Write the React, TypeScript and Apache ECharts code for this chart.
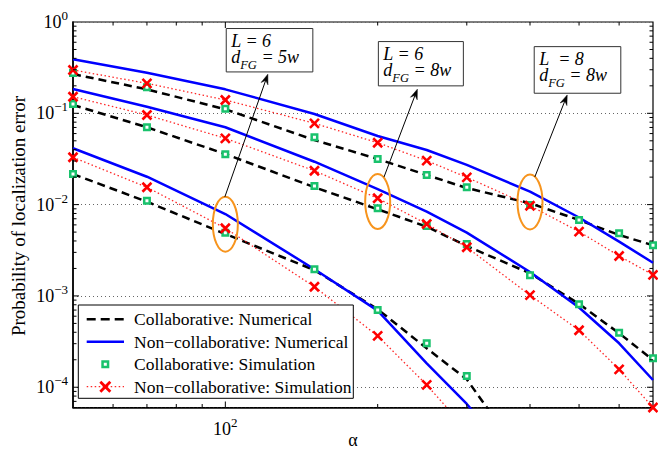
import React, { useEffect, useRef } from 'react';
import * as echarts from 'echarts';

// ---------------- data ----------------
const alpha = [50, 70, 100, 150, 200, 250, 300, 400, 500, 600, 700];

// upper family of curves
const collabNumA = [0.269, 0.183, 0.1106, 0.051, 0.0316, 0.0211, 0.0152, 0.01035, 0.00679, 0.00465, 0.00359];
const nonCollabNumA = [0.39, 0.278, 0.183, 0.0983, 0.0564, 0.0396, 0.0272, 0.0139, 0.00723, 0.00393, 0.00231];
const collabSimA = [0.276, 0.193, 0.112, 0.0546, 0.0316, 0.0211, 0.0155, 0.0099, 0.00679, 0.00485, 0.00359];
const nonCollabSimA = [0.298, 0.213, 0.14, 0.0777, 0.0476, 0.0303, 0.0199, 0.00973, 0.00506, 0.00274, 0.0017];

// middle family
const collabNumB = [0.1233, 0.0703, 0.0358, 0.0155, 0.00889, 0.00573, 0.00352, 0.00177, 0.000817, 0.00039, 0.000199];
const nonCollabNumB = [0.1845, 0.118, 0.0703, 0.0295, 0.0148, 0.0084, 0.00493, 0.00183, 0.000748, 0.000303, 0.00012];
const collabSimB = [0.1265, 0.0703, 0.0356, 0.016, 0.00912, 0.00583, 0.00371, 0.00168, 0.00081, 0.000396, 0.000208];
const nonCollabSimB = [0.152, 0.0958, 0.0532, 0.0235, 0.01173, 0.00614, 0.00341, 0.00102, 0.000421, 0.000157, 0.00006];

// lower family (values below the axis range are cut by the plot)
const collabNumC = [0.0216, 0.01076, 0.00477, 0.00192, 0.000714, 0.000267, 0.000122, 0.000013, null, null, null];
const nonCollabNumC = [0.0414, 0.0202, 0.00789, 0.00196, 0.00069, 0.000183, 0.0000656, 0.00001, null, null, null];
const collabSimC = [0.0216, 0.01104, 0.00493, 0.00196, 0.000701, 0.000303, 0.000133, null, null, null, null];
const nonCollabSimC = [0.033, 0.01549, 0.00551, 0.00126, 0.000365, 0.000106, 0.000034, null, null, null, null];

const seriesNames = [
  'Collaborative: Numerical',
  'Non\u2212collaborative: Numerical',
  'Collaborative: Simulation',
  'Non\u2212collaborative: Simulation',
];

// axis ticks
const xMajorTicks = [100];
const xMinorTicks = [60, 70, 80, 90, 200, 300, 400, 500, 600];
const yMajorTicks = [1e-4, 1e-3, 1e-2, 1e-1];
const yMinorTicks = [
  7e-5, 8e-5, 9e-5,
  2e-4, 3e-4, 4e-4, 5e-4, 6e-4, 7e-4, 8e-4, 9e-4,
  2e-3, 3e-3, 4e-3, 5e-3, 6e-3, 7e-3, 8e-3, 9e-3,
  2e-2, 3e-2, 4e-2, 5e-2, 6e-2, 7e-2, 8e-2, 9e-2,
  2e-1, 3e-1, 4e-1, 5e-1, 6e-1, 7e-1, 8e-1, 9e-1,
];

// annotations (anchored at data points)
const annotAlpha = [100, 200, 400];
const annotProb = [6.1e-3, 1.08e-2, 1.07e-2];
const annotL = ['L = 6', 'L = 6', 'L\u00a0 = 8'];
const annotD = ['5w', '8w', '8w'];

// ---------------- styling ----------------
const FONT = '"Liberation Serif", "Times New Roman", serif';
const GREEN = '#19c26c';
const RED = '#ff0000';
const BLUE = '#0000ff';
const ORANGE = '#f7941d';
const X_PATH = 'path://M0,0L10,10M10,0L0,10';

const annotLayout = [
  { start: [-0.5, -27.3], tip: [42.5, -150], box: [0.9, -195.7, 86.6, 43.4] },
  { start: [6.3, -24.5], tip: [39.7, -112.4], box: [0.7, -160, 85, 44.3] },
  { start: [4.8, -25], tip: [37.2, -107], box: [4.2, -155.3, 86.6, 46.6] },
];

function pairs(arr: (number | null)[]) {
  const out: number[][] = [];
  arr.forEach((v, i) => {
    if (v !== null) out.push([alpha[i], v]);
  });
  return out;
}

function powLabel(value: number) {
  const l = Math.log10(value);
  const e = Math.round(l);
  if (Math.abs(l - e) > 1e-6) return '';
  const s = e < 0 ? '\u2212' + -e : String(e);
  return `{b|10}{sup|${s}}`;
}

const labelRich = {
  b: { fontSize: 18, lineHeight: 26, fontFamily: FONT, color: '#000' },
  sup: { fontSize: 13, lineHeight: 26, verticalAlign: 'top', fontFamily: FONT, color: '#000' },
};

function groupSeries(cn: (number | null)[], nn: (number | null)[], cs: (number | null)[], ns: (number | null)[]) {
  return [
    {
      name: seriesNames[0], type: 'line', data: pairs(cn), symbol: 'none', z: 2,
      lineStyle: { color: '#000', width: 2.5, type: [8, 5] }, itemStyle: { color: '#000' },
    },
    {
      name: seriesNames[1], type: 'line', data: pairs(nn), symbol: 'none', z: 2,
      lineStyle: { color: BLUE, width: 2.5 }, itemStyle: { color: BLUE },
    },
    {
      name: seriesNames[2], type: 'line', data: pairs(cs), symbol: 'rect', symbolSize: 5.5, z: 3,
      showSymbol: true,
      lineStyle: { width: 0, opacity: 0 },
      itemStyle: { color: '#fff', borderColor: GREEN, borderWidth: 2.5 },
    },
    {
      name: seriesNames[3], type: 'line', data: pairs(ns), symbol: X_PATH, symbolSize: 9, z: 3,
      showSymbol: true,
      lineStyle: { color: 'rgba(255,0,0,0.85)', width: 1.3, type: [1.5, 2.5] },
      itemStyle: { color: RED, borderColor: RED, borderWidth: 2.6 },
    },
  ];
}

function buildOption() {
  const tickData: number[][] = [];
  xMinorTicks.forEach((v) => tickData.push([v, 0.01, 0]));
  xMajorTicks.forEach((v) => tickData.push([v, 0.01, 1]));
  yMinorTicks.forEach((v) => tickData.push([100, v, 2]));
  yMajorTicks.forEach((v) => tickData.push([100, v, 3]));

  const annotData = annotAlpha.map((a, i) => [a, annotProb[i], i]);

  // legend drawn as graphic
  const lgX = 78.3, lgY = 305, lgW = 275, lgH = 93.3;
  const rowY0 = 319.3, rowDy = 22.45;
  const iconX1 = 86.7, iconX2 = 124, iconC = 105.3, textX = 134;
  const legendEls: any[] = [
    { type: 'rect', z: 20, shape: { x: lgX, y: lgY, width: lgW, height: lgH }, style: { fill: '#fff', stroke: '#000', lineWidth: 1 } },
    { type: 'line', z: 21, shape: { x1: iconX1, y1: rowY0, x2: iconX2, y2: rowY0 }, style: { stroke: '#000', lineWidth: 2.5, lineDash: [9, 5] } },
    { type: 'line', z: 21, shape: { x1: iconX1, y1: rowY0 + rowDy, x2: iconX2, y2: rowY0 + rowDy }, style: { stroke: BLUE, lineWidth: 2.5 } },
    { type: 'rect', z: 21, shape: { x: iconC - 2.75, y: rowY0 + 2 * rowDy - 2.75, width: 5.5, height: 5.5 }, style: { fill: '#fff', stroke: GREEN, lineWidth: 2.5 } },
    { type: 'line', z: 21, shape: { x1: iconX1, y1: rowY0 + 3 * rowDy, x2: iconX2, y2: rowY0 + 3 * rowDy }, style: { stroke: 'rgba(255,0,0,0.85)', lineWidth: 1.3, lineDash: [1.5, 2.5] } },
    { type: 'line', z: 22, shape: { x1: iconC - 5, y1: rowY0 + 3 * rowDy - 5, x2: iconC + 5, y2: rowY0 + 3 * rowDy + 5 }, style: { stroke: RED, lineWidth: 2.8 } },
    { type: 'line', z: 22, shape: { x1: iconC + 5, y1: rowY0 + 3 * rowDy - 5, x2: iconC - 5, y2: rowY0 + 3 * rowDy + 5 }, style: { stroke: RED, lineWidth: 2.8 } },
  ];
  seriesNames.forEach((n, i) => {
    legendEls.push({
      type: 'text', z: 22, x: textX, y: rowY0 + i * rowDy,
      style: { text: n, fontSize: 17.5, fontFamily: FONT, fill: '#000', align: 'left', verticalAlign: 'middle' },
    });
  });

  return {
    animation: false,
    backgroundColor: '#fff',
    grid: {
      left: 73, right: 5, top: 22, bottom: 42.5,
      show: true, borderColor: '#000', borderWidth: 1.2, backgroundColor: 'transparent',
      containLabel: false, outerBoundsMode: 'none',
    },
    xAxis: {
      type: 'log', logBase: 10, min: 50, max: 700,
      axisLine: { show: true, onZero: false, lineStyle: { color: '#000', width: 1.6 } },
      axisTick: { show: false }, minorTick: { show: false },
      splitLine: { show: false }, minorSplitLine: { show: false },
      axisLabel: { formatter: powLabel, margin: 8, rich: labelRich, color: '#000', fontFamily: FONT, fontSize: 18 },
    },
    yAxis: {
      type: 'log', logBase: 10, min: 6e-5, max: 1,
      axisLine: { show: true, onZero: false, lineStyle: { color: '#000', width: 1.6 } },
      axisTick: { show: false }, minorTick: { show: false },
      splitLine: { show: true, lineStyle: { color: '#666', width: 1, type: [1, 3] } },
      minorSplitLine: { show: false },
      axisLabel: { formatter: powLabel, margin: 5, rich: labelRich, color: '#000', fontFamily: FONT, fontSize: 18 },
    },
    graphic: [
      {
        type: 'text', x: 18, y: 216, rotation: Math.PI / 2, z: 10,
        style: { text: 'Probability of localization error', fontSize: 19, fontFamily: FONT, fill: '#000', align: 'center', verticalAlign: 'middle' },
      },
      {
        type: 'text', x: 353, y: 440, z: 10,
        style: { text: '\u03b1', fontSize: 18, fontFamily: FONT, fill: '#000', align: 'center', verticalAlign: 'middle' },
      },
      ...legendEls,
    ],
    series: [
      ...groupSeries(collabNumA, nonCollabNumA, collabSimA, nonCollabSimA),
      ...groupSeries(collabNumB, nonCollabNumB, collabSimB, nonCollabSimB),
      ...groupSeries(collabNumC, nonCollabNumC, collabSimC, nonCollabSimC),
      {
        type: 'custom', name: 'ticks', data: tickData, z: 6, silent: true,
        renderItem: (params: any, api: any) => {
          const kind = api.value(2);
          const cs = params.coordSys;
          const p = api.coord([api.value(0), api.value(1)]);
          const len = kind % 2 === 1 ? 6 : 3.5;
          const style = { stroke: '#000', lineWidth: 1 };
          if (kind < 2) {
            return {
              type: 'group', children: [
                { type: 'line', shape: { x1: p[0], y1: cs.y + cs.height, x2: p[0], y2: cs.y + cs.height - len }, style },
                { type: 'line', shape: { x1: p[0], y1: cs.y, x2: p[0], y2: cs.y + len }, style },
              ],
            };
          }
          return {
            type: 'group', children: [
              { type: 'line', shape: { x1: cs.x, y1: p[1], x2: cs.x + len, y2: p[1] }, style },
              { type: 'line', shape: { x1: cs.x + cs.width, y1: p[1], x2: cs.x + cs.width - len, y2: p[1] }, style },
            ],
          };
        },
      },
      {
        type: 'custom', name: 'annotations', data: annotData, z: 8, silent: true,
        renderItem: (params: any, api: any) => {
          const i = api.value(2);
          const c = api.coord([api.value(0), api.value(1)]);
          const lay = annotLayout[i];
          const sx = c[0] + lay.start[0], sy = c[1] + lay.start[1];
          const tx = c[0] + lay.tip[0], ty = c[1] + lay.tip[1];
          const dx = tx - sx, dy = ty - sy;
          const L = Math.sqrt(dx * dx + dy * dy);
          const ux = dx / L, uy = dy / L;
          const nx = -uy, ny = ux;
          const head = [
            [tx, ty],
            [tx - 10 * ux + 3.6 * nx, ty - 10 * uy + 3.6 * ny],
            [tx - 6.5 * ux, ty - 6.5 * uy],
            [tx - 10 * ux - 3.6 * nx, ty - 10 * uy - 3.6 * ny],
          ];
          const bx = c[0] + lay.box[0], by = c[1] + lay.box[1];
          return {
            type: 'group',
            children: [
              { type: 'ellipse', shape: { cx: c[0], cy: c[1], rx: 12.5, ry: 27.5 }, style: { fill: 'none', stroke: ORANGE, lineWidth: 2 } },
              { type: 'line', shape: { x1: sx, y1: sy, x2: tx - 6 * ux, y2: ty - 6 * uy }, style: { stroke: '#000', lineWidth: 1 } },
              { type: 'polygon', shape: { points: head }, style: { fill: '#000', stroke: '#000', lineWidth: 0.5 } },
              { type: 'rect', shape: { x: bx, y: by, width: lay.box[2], height: lay.box[3] }, style: { fill: '#fff', stroke: '#333', lineWidth: 1 } },
              {
                type: 'text', x: bx + 5, y: by + 5,
                style: {
                  text: `{m1|${annotL[i]}}\n{m|d}{s|FG}{m| = ${annotD[i]}}`,
                  align: 'left', verticalAlign: 'top',
                  rich: {
                    m1: { fontStyle: 'italic', fontSize: 18, fontFamily: FONT, lineHeight: 14, fill: '#000' },
                    m: { fontStyle: 'italic', fontSize: 18, fontFamily: FONT, lineHeight: 18, fill: '#000' },
                    s: { fontStyle: 'italic', fontSize: 12.5, fontFamily: FONT, lineHeight: 18, height: 2, verticalAlign: 'bottom', fill: '#000' },
                  },
                },
              },
            ],
          };
        },
      },
    ],
  };
}

export default function App() {
  const ref = useRef<HTMLDivElement>(null);
  useEffect(() => {
    const chart = echarts.init(ref.current as HTMLDivElement, null, { renderer: 'svg' });
    chart.setOption(buildOption() as any);
    return () => chart.dispose();
  }, []);
  return (
    <div
      ref={ref}
      style={{ position: 'absolute', left: 0, top: 0, width: 658, height: 450, background: '#fff' }}
    />
  );
}
